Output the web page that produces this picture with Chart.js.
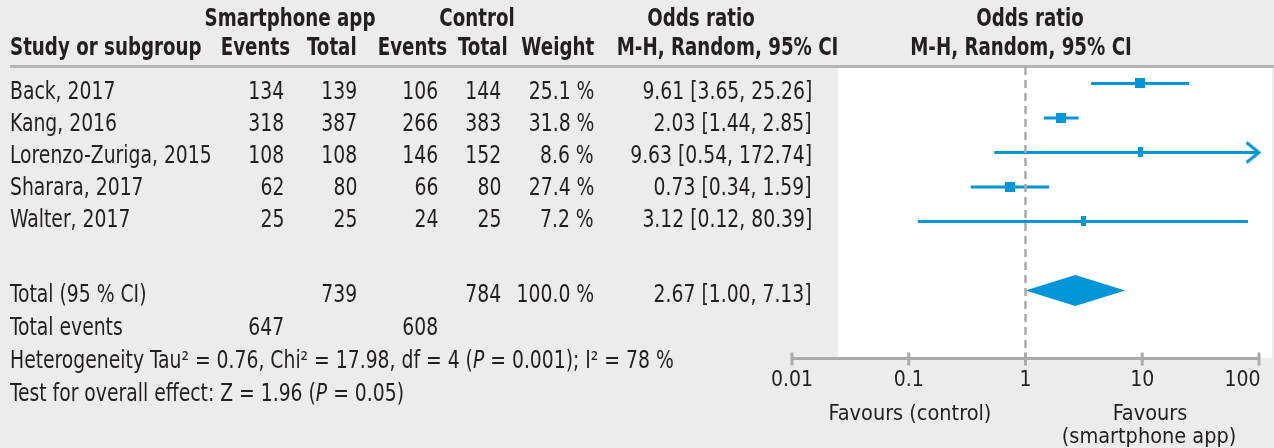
<!DOCTYPE html>
<html>
<head>
<meta charset="utf-8">
<script src="https://cdn.jsdelivr.net/npm/chart.js@4.4.1/dist/chart.umd.min.js"></script>
<style>
html,body{margin:0;padding:0;}
body{width:1274px;height:448px;background:#ebeceb;position:relative;overflow:hidden;
  font-family:"DejaVu Sans Condensed","DejaVu Sans",sans-serif;color:#231f20;}
#plotBg{position:absolute;left:838px;top:68px;width:434px;height:290px;background:#fff;}
#rule{position:absolute;left:10px;top:65px;width:1264px;height:3px;background:#b3b4b3;}
#c{position:absolute;left:0;top:0;}
.t{position:absolute;font-size:24px;line-height:32px;height:32px;white-space:nowrap;}
.h{font-weight:bold;}
.s{font-size:21.5px;}
</style>
</head>
<body>
<div id="plotBg"></div>
<div id="rule"></div>
<canvas id="c" width="1274" height="448"></canvas>
<script>
// datos del forest plot
const studies = ['Back, 2017', 'Kang, 2016', 'Lorenzo-Zuriga, 2015', 'Sharara, 2017', 'Walter, 2017'];
const appEvents = [134, 318, 108, 62, 25];
const appTotal = [139, 387, 108, 80, 25];
const ctrlEvents = [106, 266, 146, 66, 24];
const ctrlTotal = [144, 383, 152, 80, 25];
const weights = [25.1, 31.8, 8.6, 27.4, 7.2];
const orEst = [9.61, 2.03, 9.63, 0.73, 3.12];
const orLow = [3.65, 1.44, 0.54, 0.34, 0.12];
const orHigh = [25.26, 2.85, 172.74, 1.59, 80.39];
const totalOR = [2.67, 1.00, 7.13];      // estimate, low, high
const totalN = [739, 784];
const totalEvents = [647, 608];
const totalWeight = 100.0;
const xTicks = [0.01, 0.1, 1, 10, 100];
const xTickLabels = ['0.01', '0.1', '1', '10', '100'];

const BLUE = '#0096d8';
const GREY = '#a9aaa9';
const TEXT = '#231f20';

// texto de la tabla (HTML), comprimido en horizontal como el original
function put(txt, x, cy, align, cls){
  const d = document.createElement('div');
  d.className = 't' + (cls ? ' ' + cls : '');
  d.innerHTML = txt;
  d.style.top = (cy - 16) + 'px';
  const k = cls === 'h' ? 0.845 : cls === 's' ? 1 : 0.87;
  if(align === 'right'){
    d.style.right = (1274 - x) + 'px';
    d.style.transformOrigin = 'right center';
    d.style.transform = `scaleX(${k})`;
  } else if(align === 'center'){
    d.style.left = x + 'px';
    d.style.transform = `translateX(-50%) scaleX(${k})`;
  } else {
    d.style.left = x + 'px';
    d.style.transformOrigin = 'left center';
    d.style.transform = `scaleX(${k})`;
  }
  document.body.appendChild(d);
}

const cols = { ev1: 284, tot1: 357, ev2: 438, tot2: 501, w: 594, ci: 812 };
const fmtCI = (e, l, h) => `${e.toFixed(2)} [${l.toFixed(2)}, ${h.toFixed(2)}]`;

// cabecera
put('Smartphone app', 290, 18, 'center', 'h');
put('Control', 477, 18, 'center', 'h');
put('Odds ratio', 701, 18, 'center', 'h');
put('Odds ratio', 1030, 18, 'center', 'h');
put('Study or subgroup', 10, 47, 'left', 'h');
put('Events', 290, 47, 'right', 'h');
put('Total', 357, 47, 'right', 'h');
put('Events', 447, 47, 'right', 'h');
put('Total', 508, 47, 'right', 'h');
put('Weight', 594, 47, 'right', 'h');
put('M-H, Random, 95% CI', 838, 47, 'right', 'h');
put('M-H, Random, 95% CI', 1021, 47, 'center', 'h');

studies.forEach((s, i) => {
  const cy = 90.5 + 32.1 * i;
  put(s, 10, cy, 'left');
  put(appEvents[i], cols.ev1, cy, 'right');
  put(appTotal[i], cols.tot1, cy, 'right');
  put(ctrlEvents[i], cols.ev2, cy, 'right');
  put(ctrlTotal[i], cols.tot2, cy, 'right');
  put(weights[i].toFixed(1) + ' %', cols.w, cy, 'right');
  put(fmtCI(orEst[i], orLow[i], orHigh[i]), cols.ci, cy, 'right');
});

put('Total (95 % CI)', 10, 294, 'left');
put(totalN[0], cols.tot1, 294, 'right');
put(totalN[1], cols.tot2, 294, 'right');
put(totalWeight.toFixed(1) + ' %', cols.w, 294, 'right');
put(fmtCI(totalOR[0], totalOR[1], totalOR[2]), cols.ci, 294, 'right');
put('Total events', 10, 327, 'left');
put(totalEvents[0], cols.ev1, 327, 'right');
put(totalEvents[1], cols.ev2, 327, 'right');
put('Heterogeneity Tau² = 0.76, Chi² = 17.98, df = 4 (<i>P</i> = 0.001); I² = 78 %', 10, 359.5, 'left');
put('Test for overall effect: Z = 1.96 (<i>P</i> = 0.05)', 10, 393, 'left');

put('Favours (control)', 910, 413, 'center', 's');
put('Favours', 1150, 413, 'center', 's');
put('(smartphone app)', 1149, 436, 'center', 's');

// marcadores: rectángulo según peso
function boxCanvas(weight){
  const w = Math.round(Math.min(10, Math.max(5, weight * 0.6)));
  const c = document.createElement('canvas');
  c.width = w; c.height = 10;
  const g = c.getContext('2d');
  g.fillStyle = BLUE;
  g.fillRect(0, 0, w, 10);
  return c;
}
function arrowCanvas(){
  const c = document.createElement('canvas');
  c.width = 28; c.height = 26;
  const g = c.getContext('2d');
  g.strokeStyle = BLUE; g.lineWidth = 3;
  g.beginPath();
  g.moveTo(1.5, 3); g.lineTo(14, 13); g.lineTo(1.5, 23);
  g.stroke();
  return c;
}

const yMin = -0.478, yMax = 7.971;   // filas: 0..4 estudios, 6 total
const totalRow = 6;
const dh = 0.45;
const xMax = xTicks[xTicks.length - 1];

const datasets = [];
datasets.push({
  data: [{x: 1, y: yMin}, {x: 1, y: yMax}],
  showLine: true, borderColor: GREY, borderWidth: 2.5, borderDash: [8, 5],
  pointRadius: 0, order: 0
});
studies.forEach((s, i) => {
  const clipped = orHigh[i] > xMax;
  datasets.push({
    data: [{x: orLow[i], y: i}, {x: Math.min(orHigh[i], xMax), y: i}],
    showLine: true, borderColor: BLUE, borderWidth: 3,
    pointRadius: [0, clipped ? 6 : 0],
    pointStyle: clipped ? arrowCanvas() : 'circle',
    clip: false, order: 2
  });
});
datasets.push({
  data: orEst.map((v, i) => ({x: v, y: i})),
  pointStyle: weights.map(boxCanvas),
  pointRadius: 5, clip: false, order: 1
});
datasets.push({
  data: [
    {x: totalOR[1], y: totalRow}, {x: totalOR[0], y: totalRow - dh},
    {x: totalOR[2], y: totalRow}, {x: totalOR[0], y: totalRow + dh},
    {x: totalOR[1], y: totalRow}
  ],
  showLine: true, fill: 'shape', backgroundColor: BLUE, borderColor: BLUE,
  borderWidth: 0, pointRadius: 0, order: 1
});

// marcas y etiquetas del eje
const axisDeco = {
  id: 'axisDeco',
  afterDraw(chart){
    const sx = chart.scales.x, ctx = chart.ctx;
    const yb = chart.chartArea.bottom;
    ctx.save();
    ctx.strokeStyle = GREY; ctx.lineWidth = 3;
    ctx.fillStyle = TEXT;
    ctx.font = '21px "DejaVu Sans Condensed", "DejaVu Sans", sans-serif';
    ctx.textBaseline = 'middle';
    sx.ticks.forEach((t, i) => {
      const px = sx.getPixelForValue(t.value);
      ctx.beginPath(); ctx.moveTo(px, yb - 6); ctx.lineTo(px, yb + 7); ctx.stroke();
      const last = i === sx.ticks.length - 1;
      ctx.textAlign = last ? 'right' : 'center';
      ctx.fillText(xTickLabels[i], last ? px + 1.5 : px, yb + 22);
    });
    ctx.restore();
  }
};

new Chart(document.getElementById('c'), {
  type: 'scatter',
  data: { datasets },
  options: {
    responsive: false, animation: false, devicePixelRatio: 1,
    layout: { padding: { left: 792, right: 15, top: 67, bottom: 89.5 } },
    plugins: { legend: { display: false }, tooltip: { enabled: false } },
    scales: {
      x: {
        type: 'logarithmic', min: xTicks[0], max: xMax,
        afterBuildTicks: (sc) => { sc.ticks = xTicks.map(v => ({ value: v })); },
        ticks: { display: false },
        grid: { display: false, drawTicks: false },
        border: { display: true, color: GREY, width: 3 }
      },
      y: { display: false, min: yMin, max: yMax, reverse: true }
    }
  },
  plugins: [axisDeco]
});
</script>
</body>
</html>
